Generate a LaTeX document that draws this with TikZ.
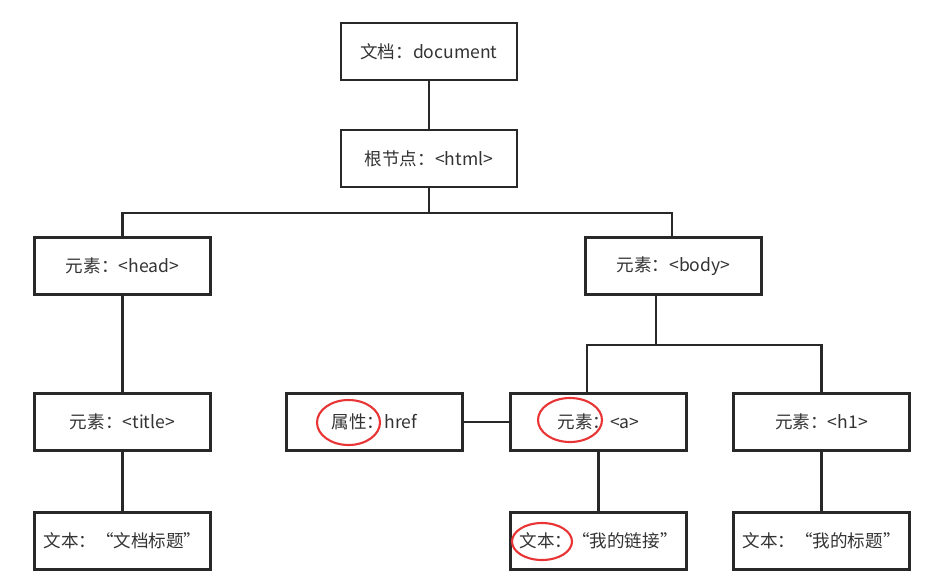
\documentclass[tikz,border=0pt]{standalone}
\usepackage{fontspec}
\setmainfont{Noto Sans CJK SC}
\definecolor{LineGray}{RGB}{40,40,40}
\definecolor{MarkRed}{RGB}{232,52,52}
\usetikzlibrary{calc}

\begin{document}
\begin{tikzpicture}[x=0.02cm,y=-0.02cm,
  domnode/.style={draw=LineGray,line width=1.2pt,minimum width=3.52cm,minimum height=1.14cm,
    inner sep=0pt,font=\fontsize{10}{12}\selectfont,text=black!80},
  link/.style={draw=LineGray,line width=1.2pt},
  redring/.style={draw=MarkRed,line width=1.2pt}]
\useasboundingbox (0,0) rectangle (939,582);
% tree nodes
\node[domnode] (doc) at (429,51.5) {文档：document};
\node[domnode] (html) at (429,158.5) {根节点：<html>};
\node[domnode] (head) at (122.5,266) {元素：<head>};
\node[domnode] (body) at (673.5,266) {元素：<body>};
\node[domnode] (title) at (122.5,422) {元素：<title>};
\node[domnode] (href) at (374.5,422) {属性：href};
\node[domnode] (a) at (598.5,422) {元素：<a>};
\node[domnode] (h1) at (821.5,422) {元素：<h1>};
\node[domnode] (txttitle) at (122.5,541) {文本：“文档标题”};
\node[domnode] (txtlink) at (598.5,541) {文本：“我的链接”};
\node[domnode] (txth1) at (821.5,541) {文本：“我的标题”};
% connectors
\draw[link] (doc) -- (html);
\draw[link] (html.south) -- ++(0,25) -| (head.north);
\draw[link] (html.south) -- ++(0,25) -| ([shift={(-1.5,0)}]body.north);
\draw[link] (head) -- (title);
\draw[link] (title) -- (txttitle);
\draw[link] ([shift={(-17.5,0)}]body.south) -- ++(0,49) -| ([shift={(-11.5,0)}]a.north);
\draw[link] ([shift={(-17.5,0)}]body.south) -- ++(0,49) -| (h1.north);
\draw[link] (href) -- (a);
\draw[link] (a) -- (txtlink);
\draw[link] (h1) -- (txth1);
% red marks
\draw[redring] (348.5,422.5) ellipse (31.5 and 22.5);
\draw[redring] (570,420) ellipse (32 and 22);
\draw[redring] (542,541.5) ellipse (30 and 18.5);
\end{tikzpicture}
\end{document}
